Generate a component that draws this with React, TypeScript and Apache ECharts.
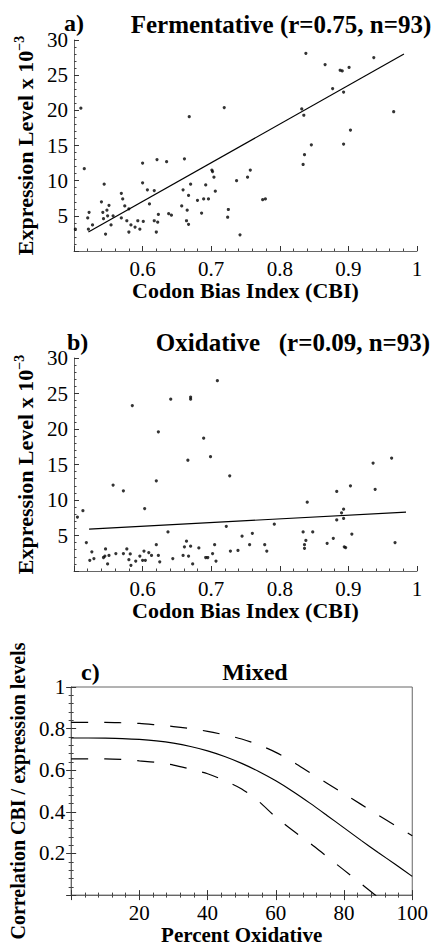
import React, { useEffect, useRef } from 'react';
import * as echarts from 'echarts';

// Panel a: Fermentative
const fermCBI = [0.502,0.510,0.515,0.520,0.522,0.521,0.527,0.540,0.544,0.542,0.543,0.548,0.551,0.546,0.549,0.554,0.557,0.569,0.571,0.574,0.569,0.577,0.580,0.580,0.583,0.589,0.593,0.596,0.601,0.600,0.600,0.607,0.610,0.617,0.617,0.622,0.620,0.623,0.621,0.635,0.638,0.642,0.657,0.661,0.659,0.665,0.664,0.667,0.667,0.670,0.668,0.680,0.686,0.689,0.692,0.696,0.701,0.702,0.704,0.706,0.719,0.725,0.724,0.737,0.742,0.753,0.757,0.775,0.779,0.832,0.835,0.838,0.836,0.834,0.846,0.866,0.877,0.888,0.891,0.893,0.901,0.893,0.903,0.937,0.966];
const fermExpr = [3.1,20.3,11.7,4.7,5.5,3.1,3.7,7.0,9.5,5.5,4.6,5.8,6.5,2.4,5.0,3.7,5.0,8.2,7.4,6.4,4.7,4.3,6.0,2.7,3.7,3.4,4.3,3.1,4.2,12.5,9.7,8.7,6.7,8.6,4.3,4.1,2.7,5.2,13.0,12.7,5.3,5.1,6.4,13.1,8.7,5.8,4.3,3.8,7.9,9.5,19.1,7.2,5.4,7.4,9.4,7.4,11.5,11.3,10.5,8.5,20.4,5.9,4.8,10.0,2.3,10.5,11.5,7.3,7.4,20.2,19.3,28.1,13.7,12.3,15.1,26.5,23.1,25.7,25.6,22.6,26.1,15.2,17.2,27.5,19.8];
const fermFitCBI = [0.521, 0.981];
const fermFitExpr = [2.7, 28.0];

// Panel b: Oxidative
const oxCBI = [0.505,0.513,0.518,0.526,0.529,0.523,0.557,0.572,0.585,0.603,0.620,0.623,0.641,0.637,0.670,0.670,0.666,0.689,0.699,0.709,0.727,0.722,0.745,0.546,0.545,0.549,0.551,0.543,0.561,0.572,0.577,0.580,0.583,0.582,0.590,0.596,0.600,0.602,0.604,0.609,0.613,0.620,0.623,0.625,0.644,0.659,0.661,0.664,0.667,0.670,0.673,0.682,0.692,0.695,0.702,0.705,0.707,0.728,0.739,0.756,0.760,0.778,0.781,0.792,0.834,0.838,0.836,0.836,0.840,0.848,0.869,0.878,0.883,0.883,0.890,0.893,0.893,0.894,0.896,0.903,0.905,0.936,0.939,0.963,0.968];
const oxExpr = [7.6,8.5,4.0,2.7,1.75,1.5,12.1,11.3,23.3,8.8,12.7,19.6,24.2,5.5,24.5,24.2,15.6,18.7,16.1,26.8,13.4,6.3,4.9,3.1,2.1,1.0,2.2,1.9,2.45,2.45,3.1,1.6,0.8,2.4,1.4,2.1,1.5,2.8,1.5,2.6,2.2,3.7,2.2,1.3,1.75,2.2,3.4,4.2,2.1,3.5,1.0,3.25,1.9,1.9,2.45,3.7,1.4,2.8,2.9,3.7,5.3,3.7,2.8,6.6,5.5,4.3,3.7,3.2,9.7,5.5,3.9,4.6,11.2,7.2,8.2,8.7,7.4,3.4,3.3,12.0,5.2,15.2,11.5,15.9,4.0];
const oxFitCBI = [0.522, 0.984];
const oxFitExpr = [5.9, 8.3];

// Panel c: Mixed
const pctOxidative = [0,5,10,15,20,25,30,35,40,45,50,55,60,65,70,75,80,85,90,95,100];
const corrMid = [0.755,0.755,0.754,0.752,0.748,0.741,0.730,0.714,0.693,0.666,0.633,0.594,0.549,0.498,0.442,0.383,0.323,0.263,0.205,0.148,0.090];
const corrUpper = [0.83,0.83,0.83,0.828,0.825,0.818,0.81,0.80,0.787,0.77,0.75,0.722,0.686,0.64,0.588,0.538,0.487,0.436,0.385,0.335,0.285];
const corrLower = [0.655,0.655,0.655,0.652,0.645,0.638,0.625,0.605,0.583,0.55,0.51,0.45,0.375,0.31,0.25,0.185,0.12,0.055,-0.01,-0.07,-0.13];

const FONT = 'Liberation Serif';

const zip = (a: number[], b: number[]) => a.map((v, i) => [v, b[i]]);

const tickLabel = { fontFamily: FONT, fontSize: 21, color: '#000' };
const axisLine = { show: true, lineStyle: { color: '#666', width: 1 } };
const axisTick = { show: true, inside: true, length: 5, lineStyle: { color: '#333' } };
const minorTick = { show: true, splitNumber: 5, length: 2.5, lineStyle: { color: '#444' } };
const nameStyle = { fontFamily: FONT, fontSize: 21, fontWeight: 'bold', color: '#000' };
const supName = {
  fontFamily: FONT,
  color: '#000',
  rich: {
    m: { fontFamily: FONT, fontSize: 22, fontWeight: 'bold', color: '#000', lineHeight: 26 },
    s: { fontFamily: FONT, fontSize: 14, fontWeight: 'bold', color: '#000', verticalAlign: 'top', lineHeight: 26 },
  },
};

const cbiLabel = (v: number) => {
  if (Math.abs(v - 0.5) < 1e-6) return '';
  if (Math.abs(v - 1) < 1e-6) return '1';
  return v.toFixed(1);
};
const exprLabel = (v: number) => (v === 0 ? '' : String(v));

function cbiAxis(grid: number) {
  return {
    type: 'value', gridIndex: grid, min: 0.5, max: 1.0, interval: 0.1,
    axisLine, axisTick, minorTick, splitLine: { show: false },
    axisLabel: { ...tickLabel, formatter: cbiLabel, margin: 7 },
    name: 'Codon Bias Index (CBI)', nameLocation: 'middle', nameGap: 22, nameTextStyle: { ...nameStyle, fontSize: 22 },
  };
}
function exprAxis(grid: number) {
  return {
    type: 'value', gridIndex: grid, min: 0, max: 30, interval: 5,
    axisLine, axisTick, minorTick, splitLine: { show: false },
    axisLabel: { ...tickLabel, formatter: exprLabel, margin: 6 },
    name: '{m|Expression Level x 10}{s|−3}', nameLocation: 'middle', nameGap: 32, nameTextStyle: supName,
  };
}

export default function App() {
  const ref = useRef<HTMLDivElement>(null);
  useEffect(() => {
    const chart = echarts.init(ref.current!, null, { renderer: 'svg' });
    const titleFont = `bold 25px "${FONT}"`;
    const option: any = {
      animation: false,
      backgroundColor: '#fff',
      grid: [
        { left: 74, top: 40, width: 343, height: 211 },
        { left: 74, top: 358, width: 343, height: 213 },
        { left: 71, top: 687, width: 343, height: 212, show: true, borderColor: '#666', borderWidth: 1 },
      ],
      xAxis: [
        cbiAxis(0),
        cbiAxis(1),
        {
          type: 'value', gridIndex: 2, min: 0, max: 100, interval: 20,
          axisLine, axisTick, minorTick, splitLine: { show: false },
          axisLabel: { ...tickLabel, formatter: (v: number) => (v === 0 ? '' : String(v)), margin: 7 },
          name: 'Percent Oxidative', nameLocation: 'middle', nameGap: 25, nameTextStyle: nameStyle,
        },
        {
          type: 'value', gridIndex: 2, position: 'top', min: 0, max: 100, interval: 20,
          axisLine, axisTick, minorTick, splitLine: { show: false }, axisLabel: { show: false },
        },
      ],
      yAxis: [
        exprAxis(0),
        exprAxis(1),
        {
          type: 'value', gridIndex: 2, min: 0, max: 1, interval: 0.2,
          axisLine, axisTick, minorTick, splitLine: { show: false },
          axisLabel: { ...tickLabel, formatter: (v: number) => (v === 0 ? '' : (v === 1 ? '1' : v.toFixed(1))), margin: 6 },
          name: 'Correlation CBI / expression levels', nameLocation: 'middle', nameGap: 38, nameTextStyle: { ...nameStyle, fontSize: 20 },
        },
        {
          type: 'value', gridIndex: 2, position: 'right', min: 0, max: 1, interval: 0.2,
          axisLine, axisTick, minorTick, splitLine: { show: false }, axisLabel: { show: false },
        },
      ],
      series: [
        { type: 'scatter', xAxisIndex: 0, yAxisIndex: 0, data: zip(fermCBI, fermExpr), symbolSize: 3.2, itemStyle: { color: '#000' } },
        { type: 'line', xAxisIndex: 0, yAxisIndex: 0, data: zip(fermFitCBI, fermFitExpr), symbol: 'none', lineStyle: { color: '#000', width: 1.2 } },
        { type: 'scatter', xAxisIndex: 1, yAxisIndex: 1, data: zip(oxCBI, oxExpr), symbolSize: 3.2, itemStyle: { color: '#000' } },
        { type: 'line', xAxisIndex: 1, yAxisIndex: 1, data: zip(oxFitCBI, oxFitExpr), symbol: 'none', lineStyle: { color: '#000', width: 1.2 } },
        { type: 'line', xAxisIndex: 2, yAxisIndex: 2, data: zip(pctOxidative, corrMid), symbol: 'none', smooth: 0.3, clip: true, lineStyle: { color: '#000', width: 1.2 } },
        { type: 'line', xAxisIndex: 2, yAxisIndex: 2, data: zip(pctOxidative, corrUpper), symbol: 'none', smooth: 0.3, clip: true, lineStyle: { color: '#000', width: 1.2, type: [17, 16] } },
        { type: 'line', xAxisIndex: 2, yAxisIndex: 2, data: zip(pctOxidative, corrLower), symbol: 'none', smooth: 0.3, clip: true, lineStyle: { color: '#000', width: 1.2, type: [17, 16] } },
      ],
      graphic: [
        { type: 'text', left: 64, top: 11, style: { text: 'a)', font: `bold 24px "${FONT}"`, fill: '#000' } },
        { type: 'text', x: 281, y: 24, style: { text: 'Fermentative (r=0.75, n=93)', font: titleFont, fill: '#000', align: 'center', verticalAlign: 'middle' } },
        { type: 'text', left: 67, top: 330, style: { text: 'b)', font: `bold 24px "${FONT}"`, fill: '#000' } },
        { type: 'text', x: 293, y: 342, style: { text: 'Oxidative   (r=0.09, n=93)', font: titleFont, fill: '#000', align: 'center', verticalAlign: 'middle' } },
        { type: 'text', left: 81, top: 660, style: { text: 'c)', font: `bold 24px "${FONT}"`, fill: '#000' } },
        { type: 'text', x: 255, y: 672, style: { text: 'Mixed', font: `bold 24px "${FONT}"`, fill: '#000', align: 'center', verticalAlign: 'middle' } },
      ],
    };
    chart.setOption(option);
    return () => chart.dispose();
  }, []);
  return <div ref={ref} style={{ position: 'fixed', left: 0, top: 0, width: 431, height: 946, background: '#fff' }} />;
}
